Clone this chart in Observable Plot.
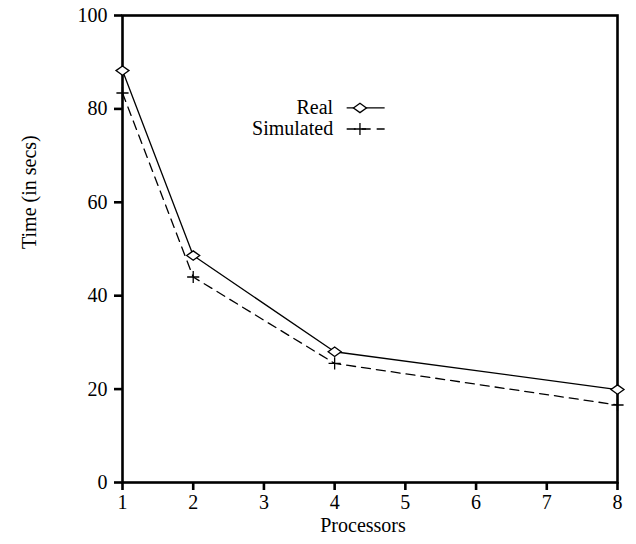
<!DOCTYPE html>
<html>
<head>
<meta charset="utf-8">
<script src="https://cdn.jsdelivr.net/npm/d3@7"></script>
<script src="https://cdn.jsdelivr.net/npm/@observablehq/plot@0.6"></script>
<style>
  html, body { margin: 0; padding: 0; background: #fff; }
  #chart svg { display: block; }
  #chart svg, #chart svg text { font-family: "Liberation Serif", "Times New Roman", serif !important; }
</style>
</head>
<body>
<div id="chart"></div>
<script>
// Data
const processors = [1, 2, 4, 8];
const realTimes = [88.2, 48.6, 28.0, 19.9];
const simulatedTimes = [83.4, 44.0, 25.5, 16.6];
const xTicks = [1, 2, 3, 4, 5, 6, 7, 8];
const yTicks = [0, 20, 40, 60, 80, 100];
const seriesNames = ["Real", "Simulated"];

const real = processors.map((p, i) => ({x: p, y: realTimes[i]}));
const simulated = processors.map((p, i) => ({x: p, y: simulatedTimes[i]}));

// Wide, flat diamond marker like the reference
const wideDiamond = {
  draw(context, size) {
    const r = Math.sqrt(size / Math.PI);
    const h = r * 0.72;
    context.moveTo(0, -h);
    context.lineTo(r, 0);
    context.lineTo(0, h);
    context.lineTo(-r, 0);
    context.closePath();
  }
};

// Legend placement (in data units inside the frame)
const legX0 = 4.17, legX1 = 4.707, legMark = 4.358, legText = 3.979;
const legY = [80.2, 75.7];
const legend = seriesNames.map((name, i) => ({name, y: legY[i]}));

const font = "'Liberation Serif', 'Times New Roman', serif";

const chart = Plot.plot({
  width: 636,
  height: 544,
  marginLeft: 122,
  marginRight: 19,
  marginTop: 15,
  marginBottom: 62,
  style: {fontFamily: font, fontSize: "20px", color: "black", background: "white"},
  x: {domain: [1, 8]},
  y: {domain: [0, 100]},
  marks: [
    Plot.frame({stroke: "black", strokeWidth: 2.6}),
    Plot.axisX({ticks: xTicks, tickFormat: d => String(d), tickSize: 8, tickPadding: 4, strokeWidth: 2.6, label: null, fontSize: 20}),
    Plot.axisY({ticks: yTicks, tickFormat: d => String(d), tickSize: 8, tickPadding: 7, strokeWidth: 2.6, label: null, fontSize: 20}),
    Plot.text(["Processors"], {frameAnchor: "bottom", dy: 49, dx: -7, fontSize: 20}),
    Plot.text(["Time (in secs)"], {frameAnchor: "left", dx: -93.4, rotate: -90, fontSize: 20}),
    // series lines
    Plot.line(real, {x: "x", y: "y", stroke: "black", strokeWidth: 1.3}),
    Plot.line(simulated, {x: "x", y: "y", stroke: "black", strokeWidth: 1.3, strokeDasharray: "9,6"}),
    Plot.dot(simulated, {x: "x", y: "y", symbol: "plus", r: 4, stroke: "black", strokeWidth: 1.3}),
    Plot.dot(real, {x: "x", y: "y", symbol: wideDiamond, r: 6.5, fill: "white", stroke: "black", strokeWidth: 1.3}),
    // legend
    Plot.text(legend, {x: () => legText, y: "y", text: "name", textAnchor: "end", fontSize: 20}),
    Plot.link([legend[0]], {x1: () => legX0, x2: () => legX1, y1: "y", y2: "y", stroke: "black", strokeWidth: 1.3}),
    Plot.link([legend[1]], {x1: () => legX0, x2: () => legX1, y1: "y", y2: "y", stroke: "black", strokeWidth: 1.3, strokeDasharray: "9,6"}),
    Plot.dot([legend[0]], {x: () => legMark, y: "y", symbol: wideDiamond, r: 6.5, fill: "white", stroke: "black", strokeWidth: 1.3}),
    Plot.dot([legend[1]], {x: () => legMark, y: "y", symbol: "plus", r: 4, stroke: "black", strokeWidth: 1.3})
  ]
});

document.getElementById("chart").appendChild(chart);
</script>
</body>
</html>
